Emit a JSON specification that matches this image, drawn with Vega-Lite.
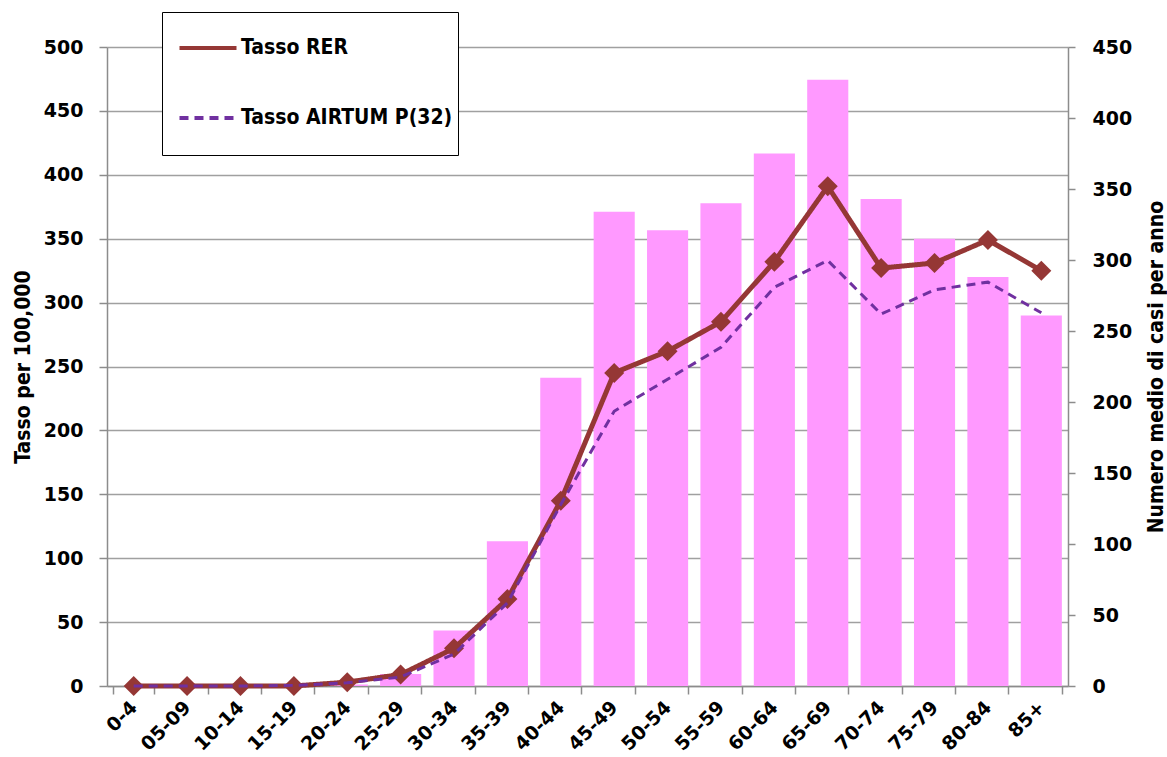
{
  "$schema": "https://vega.github.io/schema/vega-lite/v6.json",
  "width": 961,
  "height": 639,
  "autosize": "none",
  "padding": {"left": 107, "top": 47, "right": 99, "bottom": 71},
  "background": "white",
  "config": {
    "view": {"stroke": null},
    "axis": {
      "labelFont": "DejaVu Sans",
      "labelFontWeight": "bold",
      "labelFontSize": 19,
      "labelColor": "black",
      "titleFont": "DejaVu Sans Condensed, Roboto",
      "titleFontWeight": "bold",
      "titleFontSize": 21,
      "titleColor": "black",
      "domainColor": "#8c8c8c",
      "domainWidth": 1.5,
      "tickColor": "#8c8c8c",
      "tickWidth": 1.5,
      "gridColor": "#a0a0a0",
      "gridWidth": 1.5
    }
  },
  "datasets": {
    "casi": [
      {"age": "0-4", "casi": 0},
      {"age": "05-09", "casi": 0},
      {"age": "10-14", "casi": 0},
      {"age": "15-19", "casi": 0},
      {"age": "20-24", "casi": 1},
      {"age": "25-29", "casi": 8.5},
      {"age": "30-34", "casi": 39},
      {"age": "35-39", "casi": 102},
      {"age": "40-44", "casi": 217},
      {"age": "45-49", "casi": 334},
      {"age": "50-54", "casi": 321},
      {"age": "55-59", "casi": 340},
      {"age": "60-64", "casi": 375},
      {"age": "65-69", "casi": 427},
      {"age": "70-74", "casi": 343},
      {"age": "75-79", "casi": 315},
      {"age": "80-84", "casi": 288},
      {"age": "85+", "casi": 261}
    ],
    "tassi": [
      {"age": "0-4", "series": "Tasso RER", "rate": 0},
      {"age": "05-09", "series": "Tasso RER", "rate": 0},
      {"age": "10-14", "series": "Tasso RER", "rate": 0},
      {"age": "15-19", "series": "Tasso RER", "rate": 0},
      {"age": "20-24", "series": "Tasso RER", "rate": 3},
      {"age": "25-29", "series": "Tasso RER", "rate": 9},
      {"age": "30-34", "series": "Tasso RER", "rate": 29.5},
      {"age": "35-39", "series": "Tasso RER", "rate": 68},
      {"age": "40-44", "series": "Tasso RER", "rate": 145},
      {"age": "45-49", "series": "Tasso RER", "rate": 245},
      {"age": "50-54", "series": "Tasso RER", "rate": 262},
      {"age": "55-59", "series": "Tasso RER", "rate": 285},
      {"age": "60-64", "series": "Tasso RER", "rate": 332},
      {"age": "65-69", "series": "Tasso RER", "rate": 391},
      {"age": "70-74", "series": "Tasso RER", "rate": 327},
      {"age": "75-79", "series": "Tasso RER", "rate": 331},
      {"age": "80-84", "series": "Tasso RER", "rate": 349},
      {"age": "85+", "series": "Tasso RER", "rate": 325},
      {"age": "0-4", "series": "Tasso AIRTUM P(32)", "rate": 0},
      {"age": "05-09", "series": "Tasso AIRTUM P(32)", "rate": 0},
      {"age": "10-14", "series": "Tasso AIRTUM P(32)", "rate": 0},
      {"age": "15-19", "series": "Tasso AIRTUM P(32)", "rate": 0.5},
      {"age": "20-24", "series": "Tasso AIRTUM P(32)", "rate": 2.5},
      {"age": "25-29", "series": "Tasso AIRTUM P(32)", "rate": 7},
      {"age": "30-34", "series": "Tasso AIRTUM P(32)", "rate": 25},
      {"age": "35-39", "series": "Tasso AIRTUM P(32)", "rate": 65},
      {"age": "40-44", "series": "Tasso AIRTUM P(32)", "rate": 142},
      {"age": "45-49", "series": "Tasso AIRTUM P(32)", "rate": 215},
      {"age": "50-54", "series": "Tasso AIRTUM P(32)", "rate": 240},
      {"age": "55-59", "series": "Tasso AIRTUM P(32)", "rate": 265},
      {"age": "60-64", "series": "Tasso AIRTUM P(32)", "rate": 312},
      {"age": "65-69", "series": "Tasso AIRTUM P(32)", "rate": 333},
      {"age": "70-74", "series": "Tasso AIRTUM P(32)", "rate": 291},
      {"age": "75-79", "series": "Tasso AIRTUM P(32)", "rate": 310},
      {"age": "80-84", "series": "Tasso AIRTUM P(32)", "rate": 316},
      {"age": "85+", "series": "Tasso AIRTUM P(32)", "rate": 292}
    ]
  },
  "encoding": {
    "x": {
      "field": "age",
      "type": "nominal",
      "sort": null,
      "scale": {"paddingInner": 0.23, "paddingOuter": 0.115},
      "axis": {
        "title": null,
        "labelAngle": -45,
        "labelAlign": "right",
        "labelBaseline": "middle",
        "labelPadding": 10,
        "labelFontSize": 19,
        "tickBand": "extent",
        "tickSize": 8,
        "grid": false
      }
    }
  },
  "layer": [
    {
      "data": {"name": "casi"},
      "mark": {"type": "bar", "color": "#ff99ff"},
      "encoding": {
        "y": {
          "field": "casi",
          "type": "quantitative",
          "scale": {"domain": [0, 450]},
          "axis": {
            "orient": "right",
            "title": "Numero medio di casi per anno",
            "titleAngle": -90,
            "titleBaseline": "top",
            "values": [0, 50, 100, 150, 200, 250, 300, 350, 400, 450],
            "grid": false,
            "tickSize": 7,
            "labelPadding": 17,
            "labelAlign": "left",
            "titlePadding": 14
          }
        }
      }
    },
    {
      "data": {"name": "tassi"},
      "encoding": {
        "y": {
          "field": "rate",
          "type": "quantitative",
          "scale": {"domain": [0, 500]},
          "axis": {
            "orient": "left",
            "title": "Tasso per 100,000",
            "values": [0, 50, 100, 150, 200, 250, 300, 350, 400, 450, 500],
            "grid": true,
            "tickSize": 8,
            "labelPadding": 16,
            "titlePadding": 10
          }
        }
      },
      "layer": [
        {
          "transform": [{"filter": "datum.series === 'Tasso RER'"}],
          "mark": {"type": "line", "strokeCap": "round", "strokeJoin": "round", "strokeWidth": 5},
          "encoding": {
            "color": {
              "field": "series",
              "type": "nominal",
              "scale": {"domain": ["Tasso RER", "Tasso AIRTUM P(32)"], "range": ["#953735", "#7030a0"]},
              "legend": {
                "title": " ",
                "titleOrient": "bottom",
                "titleFontSize": 18,
                "titlePadding": 4,
                "orient": "none",
                "legendX": 55,
                "legendY": -35,
                "direction": "vertical",
                "fillColor": "white",
                "strokeColor": "black",
                "padding": 5,
                "symbolOffset": 10,
                "symbolType": "stroke",
                "symbolSize": 3250,
                "symbolStrokeWidth": 4,
                "labelOffset": 2,
                "labelFont": "DejaVu Sans Condensed, Roboto",
                "labelFontWeight": "bold",
                "labelFontSize": 21,
                "labelColor": "black",
                "rowPadding": 29,
                "labelLimit": 400
              }
            },
            "strokeDash": {
              "field": "series",
              "type": "nominal",
              "scale": {"domain": ["Tasso RER", "Tasso AIRTUM P(32)"], "range": [[1, 0], [9, 6]]},
              "legend": null
            }
          }
        },
        {
          "transform": [{"filter": "datum.series === 'Tasso RER'"}],
          "mark": {"type": "point", "shape": "diamond", "filled": true, "size": 400, "color": "#953735", "opacity": 1}
        },
        {
          "transform": [{"filter": "datum.series === 'Tasso AIRTUM P(32)'"}],
          "mark": {"type": "line", "strokeWidth": 3},
          "encoding": {
            "color": {"field": "series", "type": "nominal"},
            "strokeDash": {"field": "series", "type": "nominal", "legend": null}
          }
        }
      ]
    }
  ],
  "resolve": {"scale": {"y": "independent"}}
}
